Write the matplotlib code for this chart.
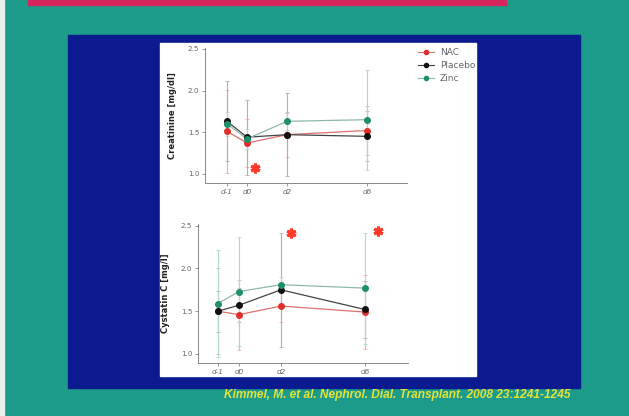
import matplotlib
matplotlib.use("Agg")
import matplotlib.pyplot as plt
from matplotlib.patches import Rectangle

W, H = 629, 416

days = [-1, 0, 2, 6]
day_labels = ["d-1", "d0", "d2", "d6"]
series = ["NAC", "Placebo", "Zinc"]

crea_nac = [1.51, 1.37, 1.47, 1.52]
crea_pla = [1.63, 1.44, 1.47, 1.45]
crea_zinc = [1.60, 1.42, 1.63, 1.65]
crea_nac_sd = [0.50, 0.29, 0.27, 0.29]
crea_pla_sd = [0.48, 0.45, 0.50, 0.30]
crea_zinc_sd = [0.14, 0.12, 0.10, 0.60]

cys_nac = [1.50, 1.46, 1.56, 1.49]
cys_pla = [1.50, 1.57, 1.75, 1.52]
cys_zinc = [1.59, 1.73, 1.81, 1.77]
cys_nac_sd = [0.50, 0.41, 0.19, 0.43]
cys_pla_sd = [0.24, 0.20, 0.67, 0.33]
cys_zinc_sd = [0.63, 0.64, 0.09, 0.65]

crea_sig_day = [0.4]
crea_sig_val = [1.07]
cys_sig_day = [2.5, 6.6]
cys_sig_val = [2.42, 2.44]

yticks = [1.0, 1.5, 2.0, 2.5]
citation = "Kimmel, M. et al. Nephrol. Dial. Transplant. 2008 23:1241-1245"

colors = {"NAC": "#e0302a", "Placebo": "#111111", "Zinc": "#1f8f6a"}
err_colors = {"NAC": "#f0b0a8", "Placebo": "#b0b0b0", "Zinc": "#b0d8c4"}
line_colors = {"NAC": "#e07070", "Placebo": "#444444", "Zinc": "#90b8a8"}

fig = plt.figure(figsize=(W / 100, H / 100), dpi=100)
fig.patch.set_facecolor("#1c9a8a")


def box(x0, y0, x1, y1):
    return [x0 / W, 1 - y1 / H, (x1 - x0) / W, (y1 - y0) / H]


bg = fig.add_axes([0, 0, 1, 1])
bg.set_xlim(0, W)
bg.set_ylim(H, 0)
bg.axis("off")
bg.add_patch(Rectangle((0, 0), 4, H, color="#e8f0ee"))
bg.add_patch(Rectangle((28, 0), 478, 5, color="#d4265c"))
bg.add_patch(Rectangle((68, 35), 512, 353, color="#0b1a8e"))
bg.add_patch(Rectangle((160, 43), 316, 333, color="white"))
bg.text(397, 395, citation, color="#e6e23a", fontsize=8.6, fontweight="bold",
        fontstyle="italic", family="Liberation Sans", ha="center", va="center")


def panel(rect, xlim, ylim, data, sds, sig_d, sig_v, ylabel, legend=False):
    ax = fig.add_axes(rect)
    ax.set_facecolor("white")
    for name, vals, sd in zip(series, data, sds):
        ax.errorbar(days, vals, yerr=sd, fmt="none", ecolor=err_colors[name],
                    elinewidth=0.8, capsize=1.5, capthick=0.6, zorder=1)
    for name, vals in zip(series, data):
        ax.plot(days, vals, "-", color=line_colors[name], lw=0.9, zorder=2)
    handles = []
    for name, vals in zip(series, data):
        h, = ax.plot(days, vals, "o", color=colors[name], ms=4, zorder=3,
                     label=name)
        handles.append(h)
    ax.plot(sig_d, sig_v, linestyle="none", marker=(6, 2, 0), ms=7, mew=2.2,
            color="#ff3a2a", zorder=4)
    ax.set_xlim(*xlim)
    ax.set_ylim(*ylim)
    ax.set_xticks(days)
    ax.set_xticklabels(day_labels, fontstyle="italic")
    ax.set_yticks(yticks)
    ax.set_yticklabels([f"{t:.1f}" for t in yticks])
    for s in ["top", "right"]:
        ax.spines[s].set_visible(False)
    for s in ["left", "bottom"]:
        ax.spines[s].set_color("#888888")
        ax.spines[s].set_linewidth(0.7)
    ax.tick_params(colors="#888888", labelcolor="#666666", labelsize=5.2,
                   length=2, width=0.6, pad=2)
    ax.set_ylabel(ylabel, fontsize=6, fontweight="bold", color="#222222",
                  labelpad=8)
    if legend:
        fig.legend(handles=[
            plt.Line2D([], [], color=line_colors[n], marker="o", ms=3,
                       mfc=colors[n], mec=colors[n], lw=0.8) for n in series],
            labels=series, loc="upper left",
            bbox_to_anchor=(410 / W, 1 - 40 / H), frameon=False,
            fontsize=6.5, handlelength=1.8, handletextpad=0.6,
            labelspacing=0.45, labelcolor="#666666")
    return ax


panel(box(205, 48, 407, 183), (-2.1, 8.0), (0.89, 2.51),
      [crea_nac, crea_pla, crea_zinc], [crea_nac_sd, crea_pla_sd, crea_zinc_sd],
      crea_sig_day, crea_sig_val, "Creatinine [mg/dl]", legend=True)
panel(box(198, 224, 408, 363), (-1.95, 8.05), (0.894, 2.52),
      [cys_nac, cys_pla, cys_zinc], [cys_nac_sd, cys_pla_sd, cys_zinc_sd],
      cys_sig_day, cys_sig_val, "Cystatin C [mg/l]")

fig.savefig("out.png", dpi=100, facecolor=fig.get_facecolor())
